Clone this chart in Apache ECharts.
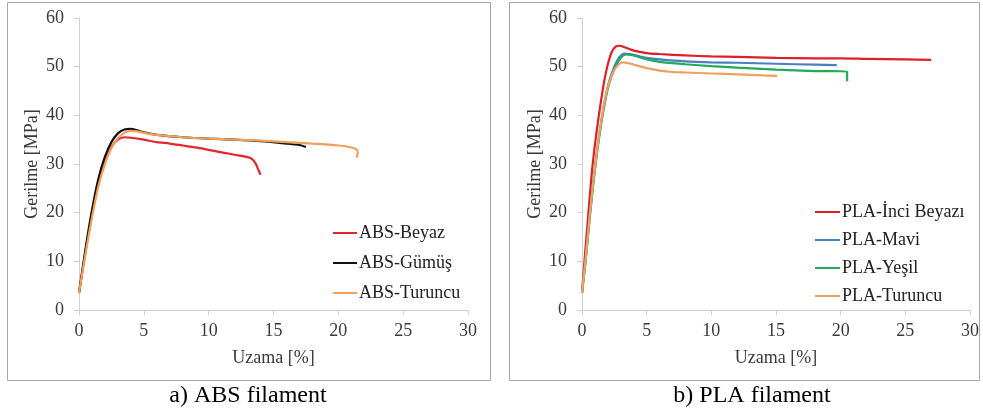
<!DOCTYPE html>
<html>
<head>
<meta charset="utf-8">
<title>Gerilme - Uzama</title>
<script src="https://cdn.jsdelivr.net/npm/echarts@6/dist/echarts.min.js"></script>
<style>
  html, body { margin: 0; padding: 0; background: #fff; }
  #chart { width: 983px; height: 412px; }
</style>
</head>
<body>
<div id="chart"></div>
<script>
// axis ticks (both panels)
const xTicks = [0, 5, 10, 15, 20, 25, 30];
const yTicks = [0, 10, 20, 30, 40, 50, 60];

// a) ABS filament  -- [uzama %, gerilme MPa]
const absNames = ['ABS-Beyaz', 'ABS-Gümüş', 'ABS-Turuncu'];
const absBeyaz = [[0,3.5],[0.5,12],[1,20],[1.5,26],[2,30.5],[2.5,33.5],[3,35],[3.5,35.5],[4,35.4],[5,35],[6,34.5],[7,34.2],[8,33.8],[9,33.4],[10,32.9],[11,32.4],[12,31.9],[13,31.4],[13.3,31.1],[13.6,30.2],[13.8,29],[14,27.8]];
const absGumus = [[0,3.5],[0.5,12.5],[1,20.5],[1.5,27],[2,31.5],[2.5,34.5],[3,36.3],[3.5,37.1],[4,37.2],[4.5,36.9],[5,36.5],[6,36],[8,35.5],[10,35.2],[12,35],[14,34.7],[16,34.2],[17,33.9],[17.5,33.5]];
const absTuruncu = [[0,3.5],[0.5,11.5],[1,19],[1.5,25.5],[2,30],[2.5,33.3],[3,35.3],[3.5,36.4],[4,36.8],[4.5,36.7],[5,36.4],[6,36],[8,35.5],[10,35.2],[12,35],[14,34.8],[16,34.5],[18,34.2],[20,33.8],[21,33.4],[21.4,33],[21.5,32.3],[21.4,31.3]];

// b) PLA filament
const plaNames = ['PLA-İnci Beyazı', 'PLA-Mavi', 'PLA-Yeşil', 'PLA-Turuncu'];
const plaInci = [[0,3.5],[0.25,12],[0.5,20],[0.75,28],[1,34],[1.25,39],[1.5,43.5],[1.75,47.5],[2,50.5],[2.3,53],[2.6,54.1],[2.9,54.3],[3.3,54],[4,53.3],[5,52.8],[6,52.6],[8,52.3],[10,52.1],[12,52],[15,51.8],[18,51.7],[20,51.7],[22,51.6],[25,51.5],[27,51.4]];
const plaMavi = [[0,3.5],[0.3,11],[0.6,19.5],[0.9,27],[1.2,33.5],[1.5,39],[1.8,43.5],[2.1,47],[2.5,50],[2.9,52],[3.3,52.7],[3.7,52.6],[4.5,52.1],[5,51.8],[6,51.5],[8,51.1],[10,50.9],[12,50.8],[15,50.6],[18,50.4],[19.7,50.3]];
const plaYesil = [[0,3.5],[0.3,10.5],[0.6,19],[0.9,26.5],[1.2,33],[1.5,38.5],[1.8,43],[2.1,46.5],[2.5,49.5],[3,51.8],[3.4,52.5],[3.8,52.4],[4.5,51.9],[5,51.5],[6,51],[8,50.5],[10,50.1],[12,49.8],[15,49.4],[18,49.1],[20.5,49],[20.5,47]];
const plaTuruncu = [[0,3.5],[0.3,11],[0.6,19.5],[0.9,27],[1.2,33.5],[1.5,39],[1.8,43.5],[2.1,46.8],[2.5,49.3],[2.9,50.6],[3.2,50.9],[3.6,50.7],[4,50.4],[5,49.7],[6,49.2],[7,48.9],[8,48.8],[9,48.7],[10,48.6],[12,48.4],[14,48.2],[15.1,48.1]];

const captions = ['a) ABS filament', 'b) PLA filament'];

const font = '"Liberation Serif", "Times New Roman", serif';
const axisGray = '#d0d0d0';
const textGray = '#3a3a3a';

function xAxisFor(grid) {
  return {
    type: 'value', gridIndex: grid,
    min: xTicks[0], max: xTicks[xTicks.length - 1], interval: xTicks[1] - xTicks[0],
    name: 'Uzama [%]', nameLocation: 'middle', nameGap: 39,
    nameTextStyle: { fontFamily: font, fontSize: 18, color: textGray },
    axisLine: { lineStyle: { color: axisGray } },
    axisTick: { show: true, length: 5, lineStyle: { color: axisGray } },
    axisLabel: { fontFamily: font, fontSize: 18, color: textGray, margin: 12 },
    splitLine: { show: false }
  };
}
function yAxisFor(grid) {
  return {
    type: 'value', gridIndex: grid,
    min: yTicks[0], max: yTicks[yTicks.length - 1], interval: yTicks[1] - yTicks[0],
    name: 'Gerilme [MPa]', nameLocation: 'middle', nameGap: 38,
    nameTextStyle: { fontFamily: font, fontSize: 18, color: textGray },
    axisLine: { show: true, lineStyle: { color: axisGray } },
    axisTick: { show: true, length: 5, lineStyle: { color: axisGray } },
    axisLabel: { fontFamily: font, fontSize: 18, color: textGray, margin: 15 },
    splitLine: { show: false }
  };
}
function line(name, data, color, axis) {
  return {
    name: name, type: 'line', data: data,
    xAxisIndex: axis, yAxisIndex: axis,
    symbol: 'none', smooth: 0.25,
    lineStyle: { color: color, width: 2.2 },
    itemStyle: { color: color }
  };
}

const chart = echarts.init(document.getElementById('chart'));
chart.setOption({
  animation: false,
  backgroundColor: '#fff',
  grid: [
    { left: 79, top: 18, width: 389, height: 292 },
    { left: 582, top: 18, width: 388, height: 292 }
  ],
  xAxis: [xAxisFor(0), xAxisFor(1)],
  yAxis: [yAxisFor(0), yAxisFor(1)],
  legend: [
    {
      data: absNames, orient: 'vertical', left: 333, top: 224, padding: 0,
      icon: 'rect', itemWidth: 24, itemHeight: 2, itemGap: 12,
      textStyle: { fontFamily: font, fontSize: 18, color: '#222', padding: [0, 0, 0, -3] }
    },
    {
      data: plaNames, orient: 'vertical', left: 815, top: 203, padding: 0,
      icon: 'rect', itemWidth: 25, itemHeight: 2, itemGap: 10,
      textStyle: { fontFamily: font, fontSize: 18, color: '#222', padding: [0, 0, 0, -3] }
    }
  ],
  series: [
    line(absNames[0], absBeyaz, '#e3262c', 0),
    line(absNames[1], absGumus, '#111111', 0),
    line(absNames[2], absTuruncu, '#f0a05a', 0),
    line(plaNames[0], plaInci, '#df1f26', 1),
    line(plaNames[1], plaMavi, '#4a7ec2', 1),
    line(plaNames[2], plaYesil, '#1fab5b', 1),
    line(plaNames[3], plaTuruncu, '#f0a060', 1)
  ],
  graphic: [
    { type: 'rect', shape: { x: 7.5, y: 2.5, width: 483, height: 378 },
      style: { fill: 'none', stroke: '#a8a8a8', lineWidth: 1 }, silent: true },
    { type: 'rect', shape: { x: 509.5, y: 2.5, width: 470, height: 378 },
      style: { fill: 'none', stroke: '#a8a8a8', lineWidth: 1 }, silent: true },
    { type: 'text', x: 248, y: 396,
      style: { text: captions[0], fontFamily: font, fontSize: 24, fill: '#000', align: 'center', verticalAlign: 'middle' } },
    { type: 'text', x: 752, y: 396,
      style: { text: captions[1], fontFamily: font, fontSize: 24, fill: '#000', align: 'center', verticalAlign: 'middle' } }
  ]
});
</script>
</body>
</html>
